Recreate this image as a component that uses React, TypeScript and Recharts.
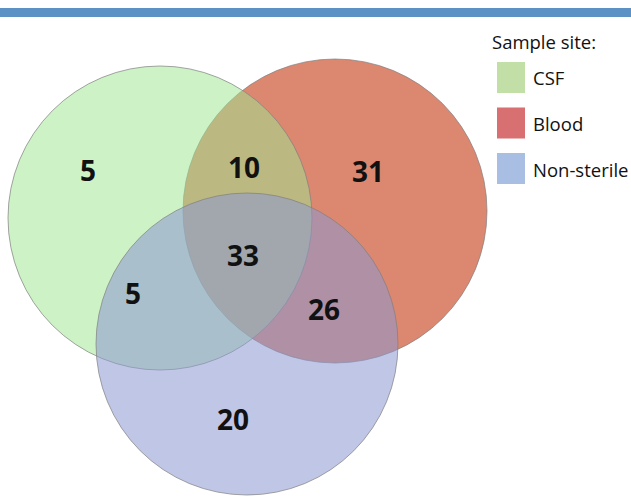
import { Legend, ReferenceArea, Scatter, ScatterChart, XAxis, YAxis } from "recharts";

// three sample sites, drawn as circles (order in the legend)
const sites = ["CSF", "Blood", "Non-sterile"];
const circleX = [160, 335, 247];
const circleY = [218, 211, 344];
const circleR = [152, 152, 151];
const circleFill = ["#9fe691", "#dc8770", "#8c97d1"];
const circleOpacity = [0.52, 1, 0.55];
const legendFill = ["#c3dfa8", "#d86f70", "#a9bee3"];
// red is painted first, then green, then blue on top
const drawOrder = [1, 0, 2];

// counts per region of the venn
const regionCount = ["5", "10", "31", "33", "5", "26", "20"];
const regionX = [88, 244, 368, 243, 133, 324, 233];
const regionY = [170, 167, 171, 255, 293, 309, 419];

const W = 631;
const H = 498;
const font = "'Open Sans', 'Liberation Sans', sans-serif";

const circles = sites.map((name, i) => ({ name, x: circleX[i], y: circleY[i], r: circleR[i] }));
const counts = regionCount.map((label, i) => ({ label, x: regionX[i], y: regionY[i] }));

function CircleShape(props: any) {
  const { cx, cy, payload, fill, fillOpacity } = props;
  return (
    <circle
      cx={cx}
      cy={cy}
      r={payload.r}
      fill={fill}
      fillOpacity={fillOpacity}
      stroke="#7f7f7f"
      strokeOpacity={0.7}
      strokeWidth={1}
    />
  );
}

function CountShape(props: any) {
  const { cx, cy, payload } = props;
  return (
    <text x={cx} y={cy} textAnchor="middle" dominantBaseline="central" fontFamily={font} fontWeight={700} fontSize={28} fill="#111">
      {payload.label}
    </text>
  );
}

function SiteLegend() {
  return (
    <svg width={140} height={170} style={{ display: "block" }}>
      <text x={0} y={19} fontFamily={font} fontSize={18.5} fill="#111">
        Sample site:
      </text>
      {sites.map((s, i) => (
        <g key={s}>
          <rect x={5} y={32 + i * 45.5} width={28} height={31} fill={legendFill[i]} />
          <text x={41} y={55 + i * 45.8} fontFamily={font} fontSize={18.5} fill="#111">
            {s}
          </text>
        </g>
      ))}
    </svg>
  );
}

export default function App() {
  return (
    <div style={{ position: "fixed", left: 0, top: 0, width: W, height: H, background: "#fff" }}>
      <ScatterChart width={W} height={H} margin={{ top: 0, right: 0, bottom: 0, left: 0 }}>
        <XAxis type="number" dataKey="x" domain={[0, W]} hide />
        <YAxis type="number" dataKey="y" domain={[0, H]} reversed hide />
        <ReferenceArea x1={0} x2={W} y1={8} y2={17} fill="#5b91c4" fillOpacity={1} stroke="none" ifOverflow="extendDomain" />
        {drawOrder.map((i) => (
          <Scatter
            key={sites[i]}
            name={sites[i]}
            data={[circles[i]]}
            fill={circleFill[i]}
            fillOpacity={circleOpacity[i]}
            shape={<CircleShape />}
            isAnimationActive={false}
          />
        ))}
        <Scatter name="counts" data={counts} shape={<CountShape />} isAnimationActive={false} legendType="none" />
        <Legend
          layout="horizontal"
          align="center"
          verticalAlign="middle"
          wrapperStyle={{ left: 492, top: 30, width: 140, height: 170 }}
          content={() => <SiteLegend />}
        />
      </ScatterChart>
    </div>
  );
}
